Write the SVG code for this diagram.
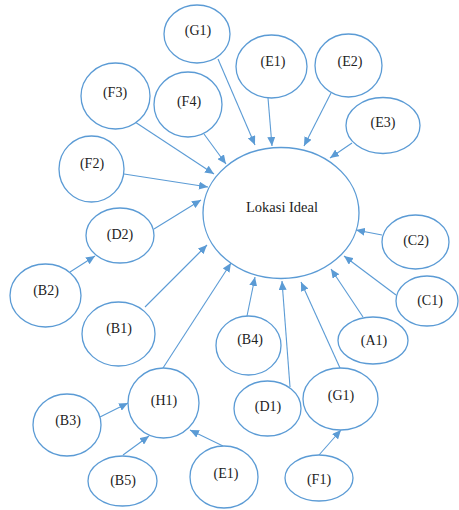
<svg xmlns="http://www.w3.org/2000/svg" width="459" height="510" viewBox="0 0 459 510">
<style>
.n ellipse{fill:#fff;stroke:#5B9BD5;stroke-width:1.3}
.n text{font-family:"Liberation Serif","Times New Roman",serif;font-size:14px;fill:#222;text-anchor:middle}
.c line{stroke:#5B9BD5;stroke-width:1.1;marker-end:url(#ah)}
</style>
<defs>
<marker id="ah" markerUnits="userSpaceOnUse" markerWidth="10" markerHeight="8" refX="9" refY="4" orient="auto">
<path d="M0,0 L9,4 L0,8 Z" fill="#5B9BD5"/>
</marker>
</defs>
<rect width="459" height="510" fill="#fff"/>
<g class="c">
<line x1="218" y1="59" x2="255" y2="145"/>
<line x1="268" y1="98" x2="272" y2="146"/>
<line x1="331" y1="93" x2="304" y2="146"/>
<line x1="352" y1="143" x2="330" y2="158"/>
<line x1="204" y1="134" x2="226" y2="164"/>
<line x1="135" y1="122" x2="214" y2="174"/>
<line x1="124" y1="174" x2="208" y2="187"/>
<line x1="154" y1="229" x2="201" y2="200"/>
<line x1="70" y1="272" x2="95" y2="256"/>
<line x1="145" y1="307" x2="207" y2="245"/>
<line x1="163" y1="368" x2="231" y2="263"/>
<line x1="247" y1="316" x2="255" y2="277"/>
<line x1="290" y1="387" x2="282" y2="281"/>
<line x1="340" y1="368" x2="301" y2="282"/>
<line x1="363" y1="317" x2="331" y2="269"/>
<line x1="396" y1="295" x2="344" y2="256"/>
<line x1="382" y1="235" x2="356" y2="230"/>
<line x1="100" y1="417" x2="128" y2="403"/>
<line x1="123" y1="455" x2="149" y2="436"/>
<line x1="223" y1="446" x2="190" y2="430"/>
<line x1="319" y1="455" x2="341" y2="430"/>
</g>
<g class="n" id="lokasi"><ellipse cx="281" cy="213" rx="78" ry="65.5"/><text x="282" y="212" style="font-size:14.5px">Lokasi Ideal</text></g>
<g class="n" id="g1a"><ellipse cx="197" cy="34" rx="33" ry="29"/><text x="198" y="35">(G1)</text></g>
<g class="n" id="e1a"><ellipse cx="271.5" cy="66.5" rx="35.5" ry="31.5"/><text x="273" y="66">(E1)</text></g>
<g class="n" id="e2"><ellipse cx="348.5" cy="65.5" rx="33.5" ry="31.5"/><text x="350" y="66">(E2)</text></g>
<g class="n" id="e3"><ellipse cx="383" cy="125.5" rx="37" ry="28"/><text x="383" y="127">(E3)</text></g>
<g class="n" id="f3"><ellipse cx="115.5" cy="96" rx="34.5" ry="33"/><text x="115" y="97">(F3)</text></g>
<g class="n" id="f4"><ellipse cx="188" cy="104.5" rx="34" ry="32.5"/><text x="189" y="106">(F4)</text></g>
<g class="n" id="f2"><ellipse cx="91.5" cy="169" rx="32.5" ry="33"/><text x="92" y="168">(F2)</text></g>
<g class="n" id="d2"><ellipse cx="120" cy="235.5" rx="34" ry="27.5"/><text x="120" y="239">(D2)</text></g>
<g class="n" id="b2"><ellipse cx="45.5" cy="295.5" rx="35.5" ry="31.5"/><text x="46" y="295">(B2)</text></g>
<g class="n" id="b1"><ellipse cx="118.5" cy="334" rx="36.5" ry="32"/><text x="119" y="333">(B1)</text></g>
<g class="n" id="c2"><ellipse cx="415.5" cy="242" rx="33.5" ry="27"/><text x="416" y="245">(C2)</text></g>
<g class="n" id="c1"><ellipse cx="427" cy="301" rx="31" ry="25"/><text x="430" y="305">(C1)</text></g>
<g class="n" id="a1"><ellipse cx="373" cy="340.5" rx="35" ry="23.5"/><text x="374" y="345">(A1)</text></g>
<g class="n" id="b4"><ellipse cx="248.5" cy="345.5" rx="32.5" ry="29.5"/><text x="250" y="344">(B4)</text></g>
<g class="n" id="d1"><ellipse cx="267.5" cy="408.5" rx="33.5" ry="27.5"/><text x="268" y="411">(D1)</text></g>
<g class="n" id="g1b"><ellipse cx="340.5" cy="399" rx="37.5" ry="31"/><text x="341" y="400">(G1)</text></g>
<g class="n" id="f1"><ellipse cx="319" cy="478" rx="34" ry="23"/><text x="319" y="484">(F1)</text></g>
<g class="n" id="h1"><ellipse cx="163.5" cy="403" rx="35.5" ry="35"/><text x="164" y="405">(H1)</text></g>
<g class="n" id="b3"><ellipse cx="67" cy="425" rx="34" ry="31"/><text x="68" y="425">(B3)</text></g>
<g class="n" id="b5"><ellipse cx="122.5" cy="481" rx="34.5" ry="25"/><text x="123" y="485">(B5)</text></g>
<g class="n" id="e1b"><ellipse cx="224" cy="477" rx="34" ry="31"/><text x="226" y="478">(E1)</text></g>
</svg>
